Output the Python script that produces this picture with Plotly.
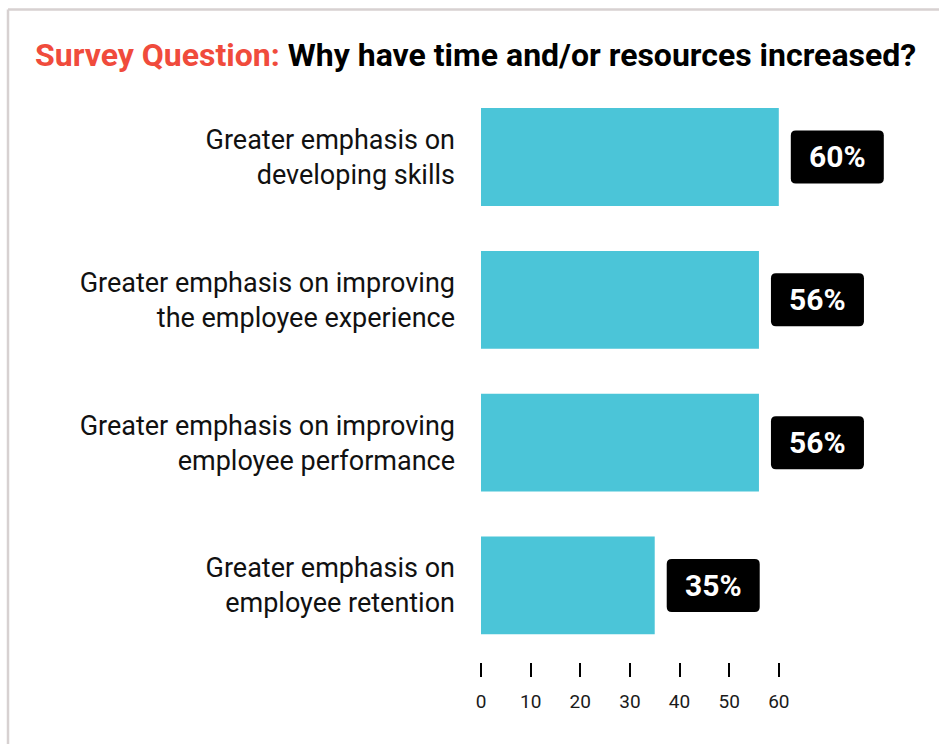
import plotly.graph_objects as go

# Survey responses
categories = [
    "Greater emphasis on<br>developing skills",
    "Greater emphasis on improving<br>the employee experience",
    "Greater emphasis on improving<br>employee performance",
    "Greater emphasis on<br>employee retention",
]
values = [60, 56, 56, 35]
tick_values = [0, 10, 20, 30, 40, 50, 60]

BAR_COLOR = "#4bc5d8"
RED = "#f04b3c"
FONT = "Roboto"

W, H = 939, 744
M_L, M_R, M_T, M_B = 481, 51, 85, 82
X_MAX = 82

positions = list(range(len(categories)))

fig = go.Figure()
fig.add_trace(go.Bar(
    x=values,
    y=positions,
    orientation="h",
    marker=dict(color=BAR_COLOR, line=dict(width=0)),
    width=0.685,
    hoverinfo="skip",
))

# Rounded black value badges with white percentage labels
BOX_W, BOX_H, GAP, R = 93, 53, 12, 5
x0, x1 = GAP, GAP + BOX_W
y0, y1 = -BOX_H / 2, BOX_H / 2
badge_path = (
    f"M {x0 + R} {y0} L {x1 - R} {y0} Q {x1} {y0} {x1} {y0 + R} "
    f"L {x1} {y1 - R} Q {x1} {y1} {x1 - R} {y1} "
    f"L {x0 + R} {y1} Q {x0} {y1} {x0} {y1 - R} "
    f"L {x0} {y0 + R} Q {x0} {y0} {x0 + R} {y0} Z"
)
for pos, val in zip(positions, values):
    fig.add_shape(
        type="path", path=badge_path,
        xref="x", yref="y", xsizemode="pixel", ysizemode="pixel",
        xanchor=val, yanchor=pos,
        fillcolor="#000000", line=dict(width=0), layer="above",
    )
    fig.add_annotation(
        x=val, y=pos, xref="x", yref="y",
        text=f"<b>{val}%</b>", showarrow=False,
        xanchor="center", yanchor="middle",
        xshift=GAP + BOX_W / 2, yshift=0,
        font=dict(family=FONT, size=30, color="#ffffff"),
    )

# Card border along the top and left edges
pw = W - M_L - M_R
ph = H - M_T - M_B
def px_x(p):
    return (p - M_L) / pw
def px_y(p):
    return 1 - (p - M_T) / ph
border = dict(color="#d7d1d1", width=2.5)
fig.add_shape(type="line", xref="paper", yref="paper",
              x0=px_x(8), x1=px_x(W + 5), y0=px_y(9.5), y1=px_y(9.5), line=border)
fig.add_shape(type="line", xref="paper", yref="paper",
              x0=px_x(8), x1=px_x(8), y0=px_y(9.5), y1=px_y(H + 5), line=border)

fig.update_layout(
    width=W, height=H,
    margin=dict(l=M_L, r=M_R, t=M_T, b=M_B, pad=0),
    paper_bgcolor="#ffffff", plot_bgcolor="#ffffff",
    showlegend=False,
    bargap=0.315,
    title=dict(
        text=(f"<b><span style='color:{RED}'>Survey Question:</span> "
              "Why have time and/or resources increased?</b>"),
        x=35 / W, xanchor="left", xref="container",
        y=1 - 55 / H, yanchor="middle", yref="container",
        font=dict(family=FONT, size=32, color="#000000"),
    ),
    xaxis=dict(
        range=[0, X_MAX], tickvals=tick_values,
        showgrid=False, zeroline=False, showline=False,
        ticks="outside", ticklen=14, tickwidth=2, tickcolor="#000000",
        ticklabelstandoff=8,
        tickfont=dict(family=FONT, size=19, color="#1a1a1a"),
        fixedrange=True,
    ),
    yaxis=dict(
        range=[3.536, -0.504],
        tickvals=positions, ticktext=categories,
        showgrid=False, zeroline=False, showline=False,
        ticks="", ticklabelstandoff=25,
        tickfont=dict(family=FONT, size=27, color="#111111"),
        fixedrange=True,
    ),
)

fig.write_html("out.html", config={"displayModeBar": False})
